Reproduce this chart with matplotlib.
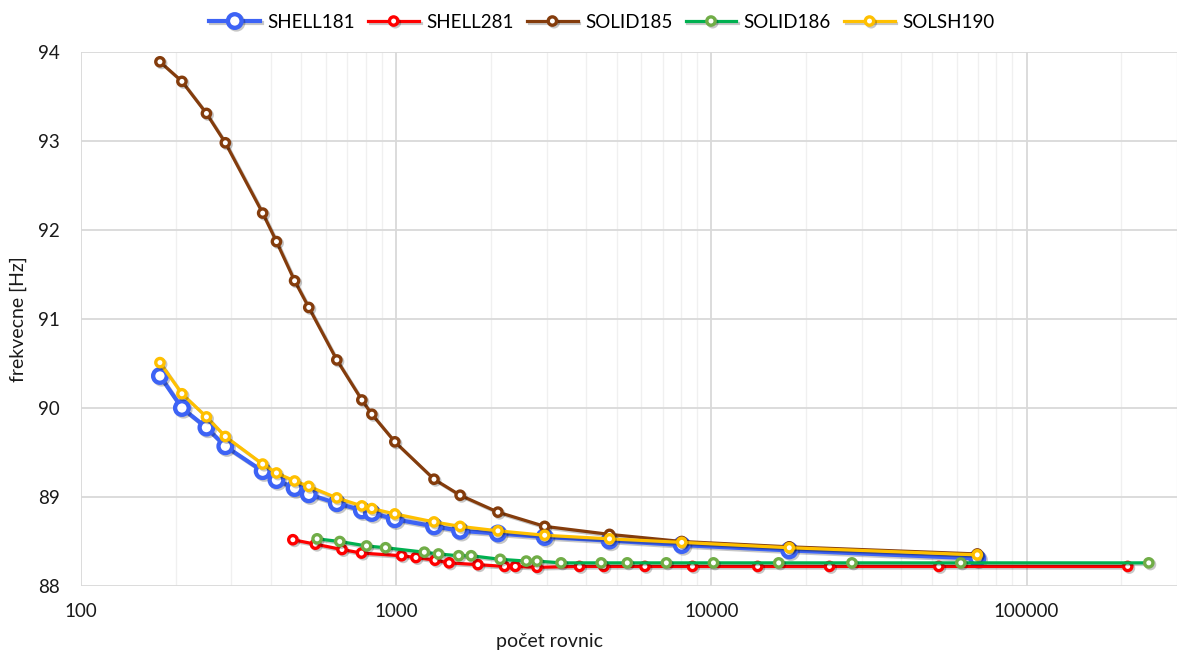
import numpy as np
import matplotlib.pyplot as plt
import matplotlib.patheffects as pe
from matplotlib.ticker import LogLocator, FixedLocator, FixedFormatter

plt.rcParams['font.family'] = ['Lato', 'DejaVu Sans']

# number of equations for each model series
x_shell = [178, 209, 250, 287, 377, 417, 476, 528, 648, 778, 837, 990,
           1318, 1595, 2102, 2958, 4750, 8050, 17660, 69750]
shell181 = [90.36, 90.00, 89.78, 89.57, 89.29, 89.19, 89.10, 89.03, 88.93, 88.85,
            88.82, 88.75, 88.67, 88.62, 88.59, 88.55, 88.51, 88.46, 88.40, 88.31]
solsh190 = [90.51, 90.16, 89.90, 89.68, 89.37, 89.27, 89.18, 89.12, 88.99, 88.90,
            88.87, 88.81, 88.72, 88.67, 88.62, 88.57, 88.53, 88.49, 88.43, 88.35]
solid185 = [93.89, 93.67, 93.31, 92.98, 92.19, 91.87, 91.43, 91.13, 90.54, 90.09,
            89.93, 89.62, 89.20, 89.02, 88.83, 88.67, 88.58, 88.50, 88.44, 88.36]

x_281 = [470, 554, 673, 776, 1040, 1155, 1328, 1472, 1816, 2206, 2387, 2797,
         3814, 4557, 6152, 8707, 14020, 23690, 52640, 209300]
shell281 = [88.52, 88.47, 88.41, 88.37, 88.34, 88.32, 88.29, 88.26, 88.24, 88.22,
            88.22, 88.21, 88.22, 88.22, 88.22, 88.22, 88.22, 88.22, 88.22, 88.22]

x_186 = [561, 662, 805, 925, 1228, 1362, 1579, 1729, 2138, 2586, 2797, 3334,
         4470, 5408, 7195, 10150, 16350, 27910, 61830, 244100]
solid186 = [88.53, 88.50, 88.45, 88.43, 88.38, 88.36, 88.34, 88.34, 88.30, 88.28,
            88.28, 88.26, 88.26, 88.26, 88.26, 88.26, 88.26, 88.26, 88.26, 88.26]

shadow = [pe.SimpleLineShadow(offset=(1.2, -1.2), shadow_color='k', alpha=0.22), pe.Normal()]

fig = plt.figure(figsize=(11.8, 6.56), dpi=100)
ax = fig.add_axes([81 / 1180, 1 - 586 / 656, (1177 - 81) / 1180, (586 - 52) / 656])

ax.plot(x_shell, shell181, color='#3D63F5', lw=3.0, marker='o', ms=9.8, mew=3.1,
        mfc='white', mec='#3D63F5', label='SHELL181', path_effects=shadow)
ax.plot(x_281, shell281, color='#FF0000', lw=2.3, marker='o', ms=6.0, mew=2.4,
        mfc='white', mec='#FF0000', label='SHELL281', path_effects=shadow)
ax.plot(x_shell, solid185, color='#843C0C', lw=2.3, marker='o', ms=6.0, mew=2.4,
        mfc='white', mec='#843C0C', label='SOLID185', path_effects=shadow)
ax.plot(x_186, solid186, color='#00B050', lw=2.3, marker='o', ms=6.0, mew=2.4,
        mfc='white', mec='#70AD47', label='SOLID186', path_effects=shadow)
ax.plot(x_shell, solsh190, color='#FFC000', lw=2.3, marker='o', ms=6.0, mew=2.4,
        mfc='white', mec='#FFC000', label='SOLSH190', path_effects=shadow)

ax.set_xscale('log')
ax.set_xlim(100, 300000)
ax.set_ylim(88, 94)
ax.xaxis.set_major_locator(FixedLocator([100, 1000, 10000, 100000]))
ax.xaxis.set_major_formatter(FixedFormatter(['100', '1000', '10000', '100000']))
ax.xaxis.set_minor_locator(LogLocator(base=10, subs=np.arange(2, 10), numticks=20))
ax.xaxis.set_minor_formatter(plt.NullFormatter())
ax.set_yticks(range(88, 95))

ax.grid(True, which='major', color='#D9D9D9', lw=1.3, zorder=0)
ax.grid(True, which='minor', axis='x', color='#F0F0F0', lw=1.0, zorder=0)
ax.set_axisbelow(True)
for s in ax.spines.values():
    s.set_visible(False)
ax.tick_params(which='both', length=0)
ax.tick_params(axis='y', pad=15, labelsize=13.5, labelcolor='#1a1a1a')
ax.tick_params(axis='x', pad=12, labelsize=13.5, labelcolor='#1a1a1a')

fig.text(18 / 1180, 1 - 319 / 656, 'frekvecne [Hz]', rotation=90, ha='center', va='center',
         fontsize=14, color='#1a1a1a')
fig.text(550 / 1180, 1 - 642 / 656, 'počet rovnic', ha='center', va='center',
         fontsize=14, color='#1a1a1a')

fig.legend(loc='upper center', bbox_to_anchor=(602 / 1180, 1.005), ncol=5, frameon=False,
           fontsize=13.5, handlelength=2.7, handletextpad=0.4, columnspacing=0.7)

fig.savefig('out.png', dpi=100)
